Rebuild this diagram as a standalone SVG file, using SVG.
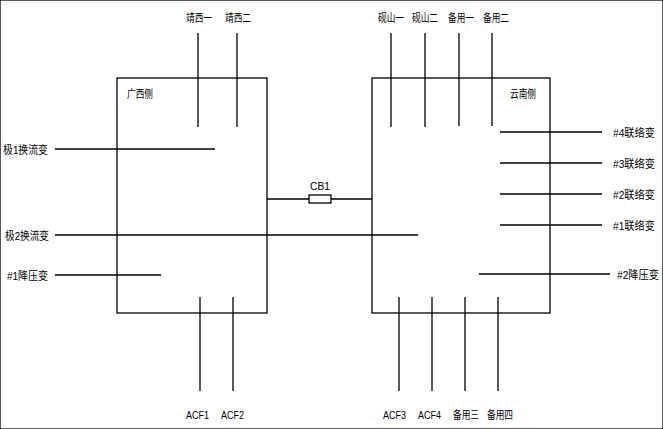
<svg xmlns="http://www.w3.org/2000/svg" width="663" height="429" viewBox="0 0 663 429">
<style>
line,rect{stroke:#000;stroke-width:1.3;fill:none}
text{font-family:"Liberation Sans","Noto Sans CJK SC",sans-serif;font-size:11px;fill:#000}
.m{text-anchor:middle}
</style>
<rect width="663" height="429" fill="#fff" stroke="none"/>
<g id="gx"><rect x="117" y="78" width="150" height="235"/><text x="127" y="98" textLength="26" lengthAdjust="spacingAndGlyphs">广西侧</text></g>
<g id="yn"><rect x="372" y="78" width="178" height="235"/><text x="510" y="98" textLength="26" lengthAdjust="spacingAndGlyphs">云南侧</text></g>
<g id="connectors">
<line x1="198" y1="33" x2="198" y2="127"/><line x1="237" y1="33" x2="237" y2="127"/>
<line x1="55" y1="149" x2="215" y2="149"/>
<line x1="55" y1="235" x2="418" y2="235"/>
<line x1="55" y1="275" x2="161" y2="275"/>
<line x1="267" y1="199" x2="309" y2="199"/><line x1="331" y1="199" x2="372" y2="199"/>
<line x1="391" y1="33" x2="391" y2="127"/><line x1="425" y1="33" x2="425" y2="127"/>
<line x1="459" y1="33" x2="459" y2="126"/><line x1="492" y1="33" x2="492" y2="126"/>
<line x1="500" y1="132" x2="602" y2="132"/><line x1="500" y1="163" x2="602" y2="163"/>
<line x1="500" y1="194" x2="602" y2="194"/><line x1="500" y1="225" x2="602" y2="225"/>
<line x1="479" y1="274" x2="610" y2="274"/>
<line x1="200" y1="297" x2="200" y2="391"/><line x1="233" y1="297" x2="233" y2="391"/>
<line x1="399" y1="297" x2="399" y2="391"/><line x1="432" y1="297" x2="432" y2="391"/>
<line x1="465" y1="297" x2="465" y2="391"/><line x1="498" y1="297" x2="498" y2="391"/>
</g>
<g id="cb1"><rect x="309" y="195" width="22" height="8"/><text x="320" y="190" class="m" textLength="20" lengthAdjust="spacingAndGlyphs">CB1</text></g>
<g id="labels">
<text x="186" y="22" textLength="26" lengthAdjust="spacingAndGlyphs">靖西一</text><text x="225" y="22" textLength="26" lengthAdjust="spacingAndGlyphs">靖西二</text>
<text x="378" y="22" textLength="26" lengthAdjust="spacingAndGlyphs">砚山一</text><text x="412" y="22" textLength="26" lengthAdjust="spacingAndGlyphs">砚山二</text>
<text x="448" y="22" textLength="26" lengthAdjust="spacingAndGlyphs">备用一</text><text x="483" y="22" textLength="26" lengthAdjust="spacingAndGlyphs">备用二</text>
<text x="3" y="154" textLength="45" lengthAdjust="spacingAndGlyphs">极1换流变</text><text x="5" y="240" textLength="44" lengthAdjust="spacingAndGlyphs">极2换流变</text><text x="7" y="280" textLength="41" lengthAdjust="spacingAndGlyphs">#1降压变</text>
<text x="613" y="137" textLength="42" lengthAdjust="spacingAndGlyphs">#4联络变</text><text x="613" y="168" textLength="42" lengthAdjust="spacingAndGlyphs">#3联络变</text>
<text x="613" y="199" textLength="42" lengthAdjust="spacingAndGlyphs">#2联络变</text><text x="613" y="230" textLength="42" lengthAdjust="spacingAndGlyphs">#1联络变</text>
<text x="617" y="279" textLength="42" lengthAdjust="spacingAndGlyphs">#2降压变</text>
<text x="186" y="419" textLength="23" lengthAdjust="spacingAndGlyphs">ACF1</text><text x="221" y="419" textLength="23" lengthAdjust="spacingAndGlyphs">ACF2</text>
<text x="383" y="419" textLength="23" lengthAdjust="spacingAndGlyphs">ACF3</text><text x="418" y="419" textLength="23" lengthAdjust="spacingAndGlyphs">ACF4</text>
<text x="453" y="419" textLength="26" lengthAdjust="spacingAndGlyphs">备用三</text><text x="487" y="419" textLength="26" lengthAdjust="spacingAndGlyphs">备用四</text>
</g>
</svg>
